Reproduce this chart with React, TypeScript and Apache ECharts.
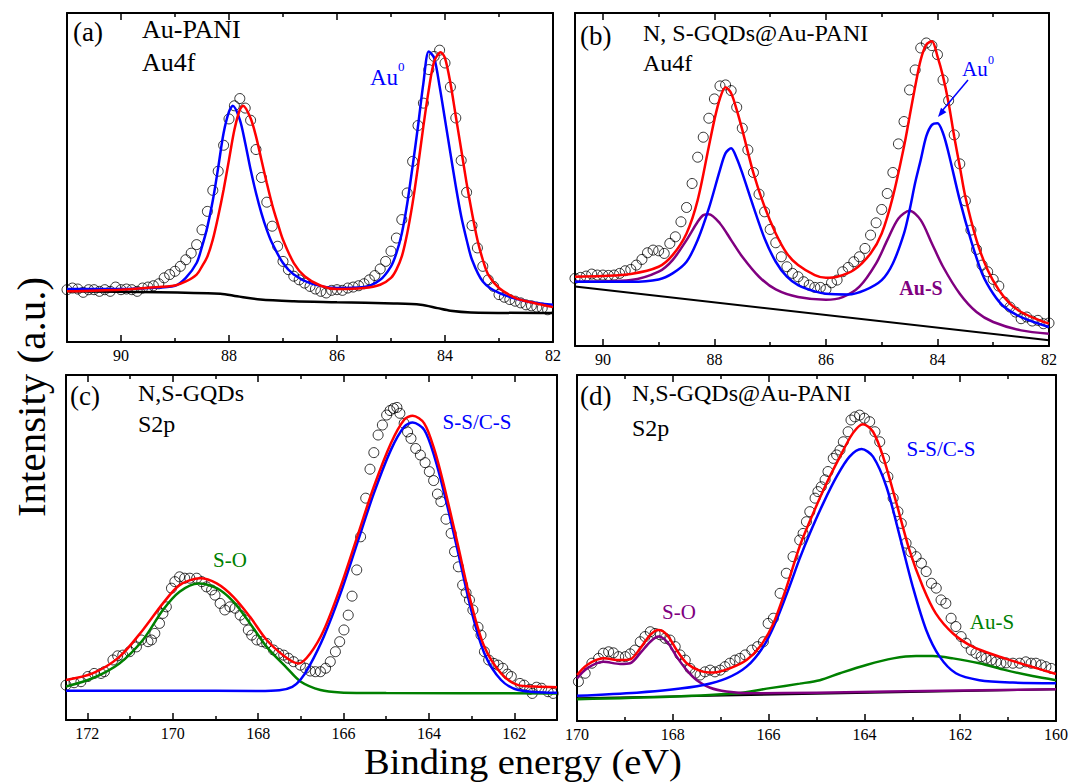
import React, { useEffect, useRef } from "react";
import * as echarts from "echarts";

const FONT = "Liberation Serif, Times New Roman, serif";

// ---------- tick labels ----------
const aTicks = [90, 88, 86, 84, 82];
const aMinor = [89, 87, 85, 83];
const bTicks = [90, 88, 86, 84, 82];
const bMinor = [89, 87, 85, 83];
const cTicks = [172, 170, 168, 166, 164, 162];
const cMinor = [171, 169, 167, 165, 163];
const dTicks = [170, 168, 166, 164, 162, 160];
const dMinor = [169, 167, 165, 163, 161];

// ---------- panel (a) Au-PANI Au4f ----------
const aScatter = [[91.0,15.9],[90.9,16.4],[90.8,16.1],[90.7,15.1],[90.6,15.9],[90.5,15.9],[90.4,15.4],[90.3,15.9],[90.2,15.4],[90.1,16.7],[90.0,15.9],[89.9,16.1],[89.8,15.9],[89.7,15.4],[89.6,16.4],[89.5,16.7],[89.4,17.1],[89.3,17.7],[89.2,19.5],[89.1,20.5],[89.0,21.5],[88.9,23],[88.8,25],[88.7,27],[88.6,29.6],[88.5,34.1],[88.4,39.7],[88.3,46.1],[88.2,51.9],[88.1,59.8],[88.0,67.8],[87.9,71.8],[87.8,74],[87.7,71.1],[87.6,67.4],[87.5,58.5],[87.4,50],[87.3,42.5],[87.2,35.2],[87.1,29.1],[87.0,24.5],[86.9,22],[86.8,20],[86.7,18.9],[86.6,17.9],[86.5,16.9],[86.4,16.1],[86.3,15.4],[86.2,14.9],[86.1,15.7],[86.0,15.9],[85.9,15.7],[85.8,16.4],[85.7,16.7],[85.6,17.1],[85.5,17.7],[85.4,18.9],[85.3,20.2],[85.2,22.2],[85.1,24.5],[85.0,27.6],[84.9,31.6],[84.8,37.2],[84.7,45.3],[84.6,54.9],[84.5,65.8],[84.4,72.6],[84.3,82.8],[84.2,86.8],[84.1,88.7],[84.0,84.8],[83.9,77.5],[83.8,68.1],[83.7,55.2],[83.6,45.5],[83.5,35.4],[83.4,28.6],[83.3,23],[83.2,18.9],[83.1,16.9],[83.0,14.4],[82.9,13.6],[82.8,12.9],[82.7,12.4],[82.6,11.9],[82.5,11.3],[82.4,11],[82.3,10.6],[82.2,10.3],[82.1,9.8]];
const aBlue = [[91,16.1],[90,16.1],[89.5,16.4],[89,17.1],[88.8,19.5],[88.6,24],[88.5,29],[88.4,35],[88.3,43],[88.2,53],[88.1,63.5],[88.0,70],[87.93,71.8],[87.8,67.6],[87.7,60.5],[87.6,52.4],[87.5,45.3],[87.4,39.2],[87.3,34.1],[87.2,30],[87.0,24],[86.8,20.5],[86.5,17.9],[86.0,16.4],[85.5,16.7],[85.2,18.9],[85.0,23],[84.9,27],[84.8,33],[84.7,42],[84.6,53.4],[84.5,65.6],[84.4,78.7],[84.3,88.3],[84.2,86.3],[84.1,77.7],[84.0,67.6],[83.9,57.4],[83.8,47.3],[83.7,38.2],[83.6,31.1],[83.5,25],[83.3,18.4],[83.0,14.9],[82.5,12.4],[82.0,11.3]];
const aRed = [[91,15.4],[90,15.9],[89.5,16.5],[89,17.2],[88.8,18.4],[88.6,20.5],[88.5,23],[88.4,26],[88.3,31.1],[88.2,38.2],[88.1,46.3],[88.0,55.4],[87.9,64.5],[87.8,70.6],[87.74,71.8],[87.6,68],[87.5,62.5],[87.4,55.4],[87.3,48.3],[87.2,41.7],[87.1,36.2],[87.0,31.1],[86.8,24],[86.6,20],[86.3,17.1],[86.0,16.1],[85.5,16.4],[85.2,17.4],[85.0,19.5],[84.9,22],[84.8,26],[84.7,33],[84.6,42.2],[84.5,53.4],[84.4,65.6],[84.3,76.7],[84.2,85.3],[84.08,88.1],[84.0,86.3],[83.9,78.7],[83.8,68.6],[83.7,58.5],[83.6,48.3],[83.5,39.2],[83.4,31.1],[83.3,25],[83.2,20.5],[83.0,16.4],[82.7,13.4],[82.5,12.4],[82.0,10.6]];
const aBase = [[91,15.4],[88.16,14.7],[87.85,13.9],[87.42,12.9],[86.8,12.4],[86,12.1],[84.95,11.7],[84.45,11.3],[84.14,10.3],[83.9,9.5],[83.52,9],[82,8.8]];

// ---------- panel (b) N, S-GQDs@Au-PANI Au4f ----------
const bScatter = [[90.5,20.3],[90.4,20.6],[90.3,21],[90.2,21.6],[90.1,21.3],[90.0,21.3],[89.9,21.2],[89.8,21.3],[89.7,21.8],[89.6,22.6],[89.5,23],[89.4,24.3],[89.3,26],[89.2,28],[89.1,28.8],[89.0,28.6],[88.9,27.8],[88.8,30.8],[88.7,32.8],[88.6,37.3],[88.5,41.6],[88.4,48.8],[88.3,56.7],[88.2,62.7],[88.1,68.4],[88.0,74.2],[87.9,78.1],[87.8,78.4],[87.7,76.7],[87.6,71.7],[87.5,65.4],[87.4,58.9],[87.3,52.1],[87.2,45.6],[87.1,40.3],[87.0,35],[86.9,31],[86.8,26.8],[86.7,23.8],[86.6,21.8],[86.5,20.8],[86.4,19.3],[86.3,18.3],[86.2,17.6],[86.1,17.6],[86.0,17],[85.9,19],[85.8,19.8],[85.7,22.3],[85.6,23.6],[85.5,25.3],[85.4,26.8],[85.3,29.3],[85.2,33.3],[85.1,37],[85.0,41],[84.9,45.8],[84.8,52.1],[84.7,60.7],[84.6,67.4],[84.5,76.9],[84.4,82.9],[84.3,89.5],[84.2,91],[84.1,90.2],[84.0,87.5],[83.9,79.9],[83.8,73.7],[83.7,63.4],[83.6,54.7],[83.5,43.6],[83.4,34.8],[83.3,29],[83.2,24.3],[83.1,22.3],[83.0,20],[82.9,18],[82.8,13.2],[82.7,11.7],[82.6,10.2],[82.5,8.2],[82.4,8.7],[82.3,7.5],[82.2,7.7],[82.1,6.7],[82.0,6.9]];
const bRed = [[90.5,20.8],[90,21],[89.5,21.6],[89,23.8],[88.75,27.3],[88.5,33.8],[88.3,43.8],[88.1,59.9],[88.0,67.9],[87.9,74.4],[87.8,77.7],[87.7,75.9],[87.6,70.9],[87.5,64.9],[87.3,51.9],[87.1,41.8],[86.9,33.8],[86.7,27.8],[86.5,24.3],[86.2,21.3],[86.0,20.5],[85.8,20.8],[85.5,22.8],[85.2,27.8],[85.0,33.8],[84.8,44.8],[84.6,59.9],[84.5,68.9],[84.4,77.9],[84.3,86],[84.2,90.5],[84.1,91.5],[84.0,87],[83.9,80.9],[83.8,72.9],[83.7,62.9],[83.6,53.9],[83.5,44.8],[83.3,31.8],[83.1,22.8],[82.9,16.8],[82.7,12.7],[82.5,10.2],[82.2,7.9],[82.0,6.7]];
const bBlue = [[90.5,19.3],[89.5,19.3],[89,20],[88.75,21.8],[88.5,25.3],[88.3,31.8],[88.1,41.3],[87.9,52.9],[87.8,57.9],[87.7,59.4],[87.6,56.4],[87.5,51.9],[87.3,41.8],[87.1,32.3],[86.9,25.3],[86.7,20.8],[86.5,18.3],[86.2,16.4],[86.0,15.7],[85.6,15.5],[85.3,16.8],[85.0,19.8],[84.8,24.8],[84.6,33.8],[84.5,40.8],[84.4,49],[84.3,55.9],[84.2,63],[84.1,66.4],[84.0,66.9],[83.9,63.9],[83.8,57.9],[83.6,43.8],[83.4,31.8],[83.2,21.8],[83.0,15.7],[82.8,11.7],[82.5,8.7],[82.0,5.7]];
const bPurple = [[90.5,19.3],[89.5,19.8],[89,22.3],[88.75,25.8],[88.5,31.8],[88.3,37.3],[88.2,39.3],[88.1,39.6],[87.9,36.8],[87.7,31.8],[87.5,26.8],[87.2,20.8],[86.9,17],[86.5,14.7],[86.0,13.9],[85.7,14.7],[85.4,17.8],[85.1,24.8],[84.9,31.8],[84.7,38.3],[84.5,40.6],[84.3,37.8],[84.1,30.8],[83.9,23.8],[83.6,15.7],[83.3,10.2],[83.0,7.2],[82.5,4.7],[82.0,3.7]];
const bBase = [[90.5,17.9],[82,1.7]];

// ---------- panel (c) N,S-GQDs S2p ----------
const cScatter = [[172.5,10.1],[172.31,10.8],[172.15,11.1],[171.99,12.6],[171.84,13.5],[171.68,13.5],[171.6,14],[171.4,17.4],[171.29,18.6],[171.17,18.8],[171.01,19.8],[170.85,21.2],[170.74,23.2],[170.58,22.7],[170.5,23.2],[170.42,25.1],[170.31,28],[170.23,30.9],[170.15,32.8],[170.03,38.2],[169.95,40.1],[169.84,41.5],[169.72,41.1],[169.6,41.1],[169.44,41.1],[169.32,40.1],[169.21,38.6],[169.09,37.7],[169.01,36.2],[168.89,33.8],[168.78,31.9],[168.66,32.8],[168.54,32.4],[168.42,30.4],[168.31,29],[168.23,26.1],[168.15,24.6],[168.03,23.2],[167.91,22.7],[167.8,22.2],[167.64,20.3],[167.52,19.3],[167.4,18.8],[167.29,17.9],[167.17,16.9],[167.01,15.9],[166.89,15],[166.78,14.2],[166.66,14],[166.54,14],[166.42,15],[166.31,16.9],[166.19,19.8],[166.09,22.7],[165.99,26.1],[165.89,30.4],[165.8,35.9],[165.69,43.5],[165.6,53.1],[165.48,64.3],[165.38,72.7],[165.29,77.5],[165.19,82.6],[165.09,85.5],[164.99,88.4],[164.91,89.7],[164.83,90.3],[164.75,90.6],[164.68,88.9],[164.58,86],[164.5,83.5],[164.42,81.6],[164.31,78.7],[164.2,76.8],[164.09,74.6],[163.99,72],[163.89,69.4],[163.8,65.5],[163.72,63.3],[163.6,58.2],[163.48,54.1],[163.4,48.8],[163.31,44.4],[163.21,39.1],[163.13,36.9],[163.05,34.8],[162.97,31.9],[162.85,26.9],[162.78,24.6],[162.7,19.8],[162.6,17.4],[162.48,16.4],[162.38,15.9],[162.27,15],[162.16,13.3],[162.07,12.6],[161.87,10.6],[161.77,10.1],[161.64,8.9],[161.58,7.7],[161.48,9.5],[161.36,9.2],[161.21,8.2],[161.09,7.7]];
const cRed = [[172.5,11.6],[171.88,13.5],[171.25,18.3],[170.7,26.1],[170.23,33.8],[169.84,39.1],[169.36,41.1],[168.97,39.6],[168.58,35.7],[168.19,29.9],[167.8,23.2],[167.32,17.9],[167.05,16.4],[166.78,19.3],[166.46,26.1],[166.07,38.6],[165.68,53.1],[165.29,67.6],[164.89,80.2],[164.58,87],[164.38,88.2],[164.11,86],[163.87,78.3],[163.64,67.6],[163.33,51.2],[163.01,33.8],[162.7,21.2],[162.31,13.5],[161.91,10.1],[161.52,9.7],[161,9.5]];
const cBlue = [[172.5,8.5],[170,8.5],[168,8.4],[167.5,8.6],[167.2,9.6],[167.0,11.8],[166.8,15.6],[166.46,24.2],[166.07,36.7],[165.68,51.2],[165.29,65.7],[164.89,78.3],[164.58,85],[164.38,86.2],[164.11,84.1],[163.87,76.3],[163.64,65.7],[163.33,49.3],[163.01,31.9],[162.7,19.3],[162.31,11.6],[161.91,8.7],[161,7.9]];
const cGreen = [[172.5,9.7],[171.88,12.1],[171.25,16.4],[170.7,23.2],[170.23,31.9],[169.84,37.2],[169.4,39.6],[168.97,38.2],[168.58,34.3],[168.19,28],[167.8,21.2],[167.32,15],[167.0,11.1],[166.54,8.7],[166.07,8],[165,7.8],[161,7.7]];

// ---------- panel (d) N,S-GQDs@Au-PANI S2p ----------
const dScatter = [[169.97,11.4],[169.83,13.8],[169.69,16.7],[169.55,18.1],[169.45,19.6],[169.34,20],[169.24,19.7],[169.13,18.6],[168.99,18.6],[168.89,19.4],[168.79,20.5],[168.68,22.9],[168.58,24.4],[168.47,25.8],[168.37,25.3],[168.26,24.9],[168.16,23.9],[168.06,23.4],[167.95,21.5],[167.85,19.1],[167.74,17.6],[167.64,15.2],[167.53,13.8],[167.43,13.3],[167.33,14.2],[167.22,14.7],[167.12,14.2],[167.01,14.7],[166.91,15.7],[166.81,16.7],[166.7,17.6],[166.6,18.1],[166.49,19.1],[166.35,20.5],[166.23,21.5],[166.11,22.9],[166.01,28.2],[165.9,29.7],[165.76,36.9],[165.63,42.7],[165.49,47.5],[165.35,52.3],[165.28,54.2],[165.21,57.6],[165.14,60.5],[165.03,64.4],[164.97,66.3],[164.9,67.7],[164.82,69.7],[164.76,72.1],[164.65,75.9],[164.58,76.9],[164.51,78.3],[164.44,80.7],[164.34,83.6],[164.28,87],[164.2,87.9],[164.1,88.4],[164,87.5],[163.89,86.5],[163.78,83.6],[163.68,80.7],[163.58,75.9],[163.51,70.6],[163.4,64.4],[163.3,60.5],[163.23,57.1],[163.13,51.4],[163.03,48.9],[162.92,47.5],[162.81,45.6],[162.71,43.2],[162.6,39.8],[162.5,38.4],[162.4,35],[162.3,34],[162.19,29.7],[162.09,27.3],[161.98,24.4],[161.88,22.5],[161.77,20.5],[161.67,19.6],[161.56,18.6],[161.46,18.1],[161.35,17.6],[161.25,17.1],[161.15,16.7],[161.04,16.8],[160.9,16.7],[160.76,16.7],[160.63,17.1],[160.52,16.7],[160.42,16.7],[160.31,16.2],[160.21,15.7],[160.1,15.2]];
const dRed = [[170,13.3],[169.79,16.2],[169.45,18.1],[169.1,17.6],[168.89,17.8],[168.68,21],[168.47,24.9],[168.3,26.3],[168.12,24.9],[167.92,20.5],[167.71,16.7],[167.43,14.5],[167.15,14],[166.81,15.2],[166.46,17.6],[166.18,21.5],[165.9,28.2],[165.63,38.5],[165.35,50.5],[165.07,60],[164.79,68.7],[164.51,76.4],[164.24,83.2],[164.03,85.8],[163.82,83.6],[163.61,76.4],[163.33,62.9],[163.06,49.4],[162.78,38.8],[162.51,31.1],[162.15,25.3],[161.74,21.5],[161.18,18.6],[160.63,16.2],[160,13.6]];
const dBlue = [[170,7.3],[168.75,8.2],[168.06,9],[167.36,10.4],[166.88,12.3],[166.46,15.7],[166.11,21.5],[165.84,29],[165.56,39],[165.35,47],[165.14,54.2],[164.86,62.9],[164.58,70.6],[164.31,76.4],[164.06,78.6],[163.82,76.4],[163.54,67.7],[163.26,53.3],[162.99,38.8],[162.71,26.3],[162.43,18.6],[162.09,13.8],[161.6,11.8],[160.9,11.1],[160,10.9]];
const dGreen = [[170,6.3],[168.06,7],[166.67,8],[165.97,9.5],[165.35,10.8],[164.93,11.8],[164.51,13.8],[163.96,16.2],[163.4,18.1],[162.92,18.8],[162.57,18.8],[162.15,18.1],[161.6,16.7],[161.05,14.7],[160.49,13],[160,11.8]];
const dPurple = [[170,12.3],[169.79,15.2],[169.45,17.1],[169.1,16.5],[168.89,16.7],[168.68,19.6],[168.47,22.9],[168.3,24.4],[168.12,22.9],[167.92,18.6],[167.71,14.7],[167.5,11.8],[167.22,9.6],[166.88,8.5],[166.39,8],[165,8.2],[162,8.8],[160,9.2]];
const dBase = [[170,6.6],[160,9.2]];

// ---------- colours ----------
const RED = "#ff0000";
const BLUE = "#0000ff";
const PURPLE = "#800080";
const GREEN = "#008000";
const BLACK = "#000000";

const PANELS = [
  { grid: { left: 67, top: 13, width: 486, height: 329 }, min: 82, max: 91, ticks: aTicks, minor: aMinor },
  { grid: { left: 575, top: 13, width: 474, height: 333 }, min: 82, max: 90.5, ticks: bTicks, minor: bMinor },
  { grid: { left: 66, top: 375, width: 491, height: 345 }, min: 161, max: 172.5, ticks: cTicks, minor: cMinor },
  { grid: { left: 577, top: 375, width: 480, height: 346 }, min: 160, max: 170, ticks: dTicks, minor: dMinor },
];

function buildOption() {
  const grid: any[] = [];
  const xAxis: any[] = [];
  const yAxis: any[] = [];
  PANELS.forEach((p, i) => {
    grid.push({ ...p.grid });
    const base = {
      gridIndex: i,
      type: "value",
      min: p.min,
      max: p.max,
      inverse: true,
      splitLine: { show: false },
    };
    xAxis.push({
      ...base,
      position: "bottom",
      axisLine: { show: true, onZero: false, lineStyle: { color: BLACK, width: 2 } },
      axisTick: { show: true, inside: true, length: 7, customValues: p.ticks, lineStyle: { color: BLACK, width: 1.5 } },
      axisLabel: { show: true, customValues: p.ticks, margin: 5, fontSize: 16, color: BLACK, fontFamily: FONT },
    });
    xAxis.push({
      ...base,
      position: "bottom",
      axisLine: { show: false, onZero: false },
      axisTick: { show: true, inside: true, length: 4, customValues: p.minor, lineStyle: { color: BLACK, width: 1.5 } },
      axisLabel: { show: false },
    });
    xAxis.push({
      ...base,
      position: "top",
      axisLine: { show: true, onZero: false, lineStyle: { color: BLACK, width: 2 } },
      axisTick: { show: true, inside: true, length: 7, customValues: p.ticks, lineStyle: { color: BLACK, width: 1.5 } },
      axisLabel: { show: false },
    });
    xAxis.push({
      ...base,
      position: "top",
      axisLine: { show: false, onZero: false },
      axisTick: { show: true, inside: true, length: 4, customValues: p.minor, lineStyle: { color: BLACK, width: 1.5 } },
      axisLabel: { show: false },
    });
    ["left", "right"].forEach((pos) => {
      yAxis.push({
        gridIndex: i,
        type: "value",
        min: 0,
        max: 100,
        position: pos,
        axisLine: { show: true, onZero: false, lineStyle: { color: BLACK, width: 2 } },
        axisTick: { show: false },
        axisLabel: { show: false },
        splitLine: { show: false },
      });
    });
  });

  const line = (data: number[][], color: string, p: number, width = 2.5) => ({
    type: "line",
    data,
    xAxisIndex: 4 * p,
    yAxisIndex: 2 * p,
    showSymbol: false,
    symbol: "none",
    smooth: 0.3,
    lineStyle: { color, width },
    z: 3,
    silent: true,
  });
  const scatter = (data: number[][], p: number) => ({
    type: "scatter",
    data,
    xAxisIndex: 4 * p,
    yAxisIndex: 2 * p,
    symbol: "circle",
    symbolSize: 10,
    itemStyle: { color: "rgba(0,0,0,0)", borderColor: BLACK, borderWidth: 1 },
    z: 2,
    silent: true,
  });

  const series = [
    scatter(aScatter, 0),
    line(aBase, BLACK, 0),
    line(aBlue, BLUE, 0),
    line(aRed, RED, 0),
    scatter(bScatter, 1),
    line(bBase, BLACK, 1, 2),
    line(bPurple, PURPLE, 1),
    line(bBlue, BLUE, 1),
    line(bRed, RED, 1),
    scatter(cScatter, 2),
    line(cGreen, GREEN, 2),
    line(cBlue, BLUE, 2),
    line(cRed, RED, 2),
    scatter(dScatter, 3),
    line(dBase, BLACK, 3, 2),
    line(dGreen, GREEN, 3),
    line(dPurple, PURPLE, 3),
    line(dBlue, BLUE, 3),
    line(dRed, RED, 3),
  ];

  const txt = (text: string, x: number, y: number, size: number, color = BLACK, align = "left", weight = "normal", extra: any = {}) => ({
    type: "text",
    x,
    y,
    z: 20,
    style: {
      text,
      fontSize: size,
      fontFamily: FONT,
      fontWeight: weight,
      fill: color,
      textAlign: align,
      textVerticalAlign: "middle",
    },
    ...extra,
  });

  const graphic = [
    txt("(a)", 73, 32, 27),
    txt("Au-PANI", 142, 29, 26),
    txt("Au4f", 142, 62, 26),
    txt("Au", 370, 77, 23, BLUE),
    txt("0", 398, 66, 13, BLUE),
    txt("(b)", 580, 36, 27),
    txt("N, S-GQDs@Au-PANI", 643, 33, 24),
    txt("Au4f", 643, 63, 24),
    txt("Au", 962, 69, 21, BLUE),
    txt("0", 988, 60, 12, BLUE),
    txt("Au-S", 921, 288, 20, PURPLE, "center", "bold"),
    { type: "line", z: 20, shape: { x1: 968, y1: 80, x2: 942, y2: 111 }, style: { stroke: BLUE, lineWidth: 1.5 } },
    { type: "polygon", z: 20, shape: { points: [[938, 117], [946.4, 112.2], [941, 107.8]] }, style: { fill: BLUE } },
    txt("(c)", 70, 396, 27),
    txt("N,S-GQDs", 138, 393, 24),
    txt("S2p", 138, 424, 24),
    txt("S-O", 230, 560, 21, GREEN, "center"),
    txt("S-S/C-S", 477, 422, 21, BLUE, "center"),
    txt("(d)", 580, 396, 27),
    txt("N,S-GQDs@Au-PANI", 632, 393, 24),
    txt("S2p", 632, 428, 24),
    txt("S-S/C-S", 941, 449, 21, BLUE, "center"),
    txt("S-O", 679, 612, 21, PURPLE, "center"),
    txt("Au-S", 992, 622, 21, GREEN, "center"),
    txt("Intensity (a.u.)", 31, 397, 41, BLACK, "center", "normal", { rotation: Math.PI / 2 }),
    txt("Binding energy (eV)", 523, 762, 35, BLACK, "center", "normal", { scaleX: 1.1 }),
  ];

  return {
    animation: false,
    backgroundColor: "#ffffff",
    textStyle: { fontFamily: FONT },
    grid,
    xAxis,
    yAxis,
    series,
    graphic,
  };
}

export default function App() {
  const ref = useRef<HTMLDivElement>(null);
  useEffect(() => {
    document.body.style.margin = "0";
    document.body.style.overflow = "hidden";
    if (!ref.current) return;
    const chart = echarts.init(ref.current, undefined, { renderer: "svg" });
    chart.setOption(buildOption() as any);
    return () => chart.dispose();
  }, []);
  return <div ref={ref} style={{ width: 1071, height: 782, background: "#fff" }} />;
}
